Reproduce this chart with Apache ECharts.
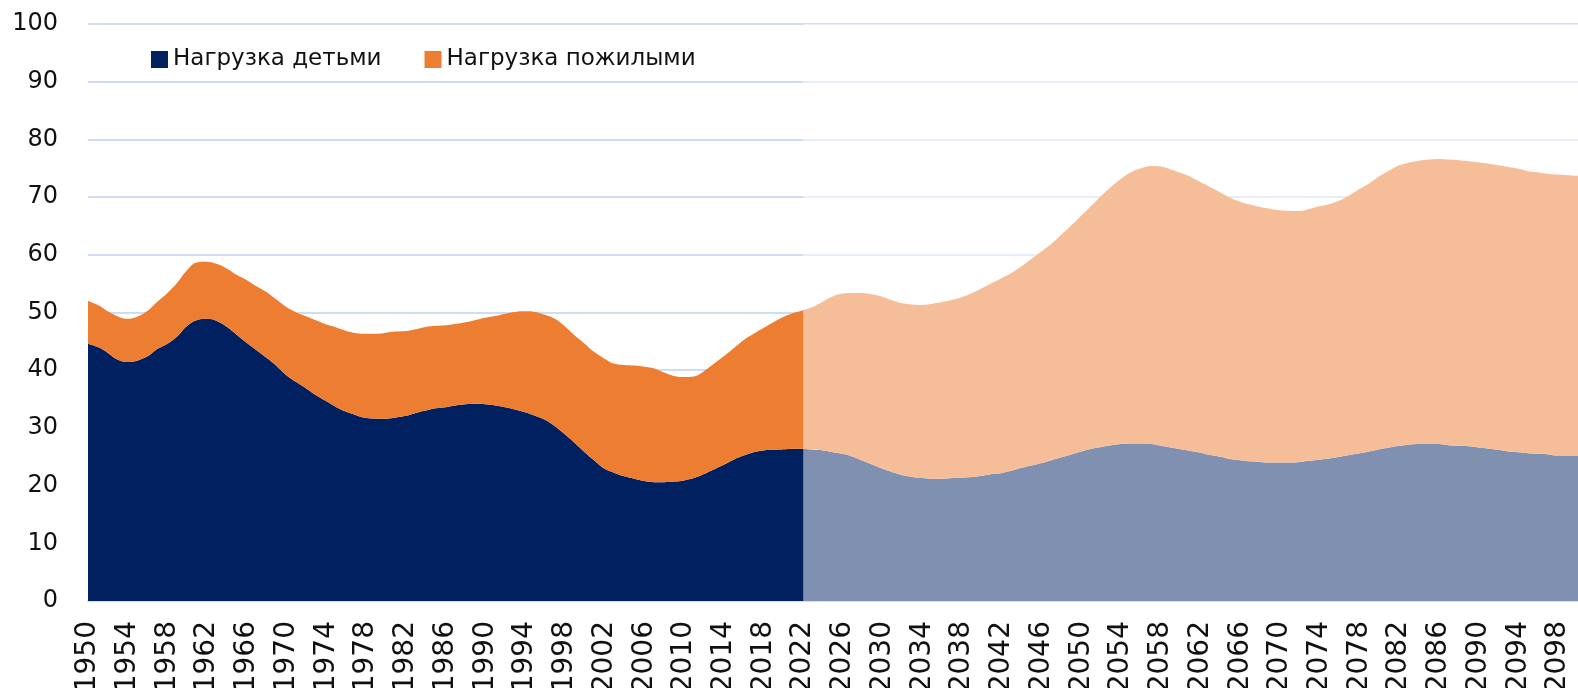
<!DOCTYPE html>
<html>
<head>
<meta charset="utf-8">
<script src="https://cdn.jsdelivr.net/npm/echarts@6/dist/echarts.min.js"></script>
<style>
  html, body { margin: 0; padding: 0; background: #fff; }
  #chart { width: 1578px; height: 688px; }
</style>
</head>
<body>
<div id="chart"></div>
<script>
// годы 1950-2100
var years = [];
for (var y = 1950; y <= 2100; y++) years.push(String(y));

// нагрузка детьми (на 100 человек трудоспособного возраста)
var childData = [
  44.6,44.0,43.0,41.8,41.4,41.7,42.4,43.7,44.6,45.9,
  47.7,48.7,48.9,48.5,47.5,46.1,44.7,43.4,42.1,40.7,
  39.1,37.9,36.8,35.6,34.6,33.6,32.8,32.2,31.7,31.6,
  31.6,31.8,32.1,32.6,33.0,33.4,33.6,33.9,34.1,34.2,
  34.1,33.9,33.6,33.2,32.7,32.1,31.4,30.3,28.9,27.4,
  25.8,24.3,22.9,22.2,21.6,21.2,20.8,20.6,20.6,20.7,
  20.9,21.3,22.0,22.8,23.6,24.5,25.2,25.8,26.1,26.2,
  26.3,26.4,26.4,26.2,26.1,25.8,25.5,25.0,24.3,23.6,
  22.9,22.3,21.8,21.5,21.3,21.2,21.2,21.3,21.4,21.5,
  21.7,22.0,22.2,22.6,23.1,23.5,23.9,24.4,24.9,25.4,
  25.9,26.4,26.7,27.0,27.2,27.3,27.3,27.2,26.9,26.6,
  26.3,26.0,25.7,25.3,25.0,24.6,24.4,24.2,24.1,24.0,
  24.0,24.0,24.1,24.3,24.5,24.7,25.0,25.3,25.6,25.9,
  26.3,26.6,26.9,27.1,27.2,27.2,27.2,27.0,26.9,26.8,
  26.6,26.4,26.2,25.9,25.8,25.6,25.5,25.4,25.2,25.2,
  25.2
];

// нагрузка пожилыми
var oldData = [
  7.4,7.3,7.2,7.5,7.5,7.6,7.9,8.2,8.8,9.3,
  9.7,10.0,9.9,9.9,10.1,10.4,10.9,11.1,11.4,11.5,
  11.8,12.1,12.5,13.0,13.3,13.8,14.0,14.2,14.6,14.7,
  14.9,14.9,14.7,14.5,14.5,14.3,14.2,14.1,14.2,14.5,
  15.0,15.5,16.2,16.9,17.5,18.0,18.2,18.6,18.7,18.6,
  18.8,18.8,19.1,18.9,19.3,19.6,19.8,19.7,19.0,18.3,
  17.9,17.6,17.8,18.3,18.8,19.3,20.0,20.5,21.2,22.1,
  22.9,23.5,24.0,24.8,25.8,27.0,27.8,28.4,29.1,29.5,
  29.8,29.8,29.8,29.9,30.0,30.3,30.6,30.9,31.3,31.9,
  32.5,33.1,33.8,34.3,34.9,35.8,36.7,37.5,38.6,39.7,
  40.9,42.1,43.5,44.8,46.0,47.0,47.7,48.2,48.4,48.2,
  47.9,47.5,46.9,46.4,45.8,45.3,44.8,44.5,44.2,44.0,
  43.7,43.6,43.5,43.7,43.9,44.1,44.4,45.0,45.8,46.5,
  47.3,48.0,48.6,48.9,49.1,49.3,49.4,49.5,49.5,49.4,
  49.4,49.4,49.3,49.3,49.1,48.9,48.8,48.6,48.7,48.6,
  48.5
];

var forecastStart = "2022";
var forecastEnd = "2100";

var myChart = echarts.init(document.getElementById("chart"));
var font = "'DejaVu Sans', 'Noto Sans', sans-serif";

var option = {
  animation: false,
  textStyle: { fontFamily: font },
  legend: {
    left: 146,
    top: 43,
    icon: "rect",
    itemWidth: 17,
    itemHeight: 17,
    itemGap: 43,
    textStyle: { fontSize: 23, color: "#111", fontFamily: font },
    data: ["Нагрузка детьми", "Нагрузка пожилыми"]
  },
  grid: {
    left: 88,
    right: 0,
    top: 24,
    bottom: 87,
    outerBoundsMode: "none"
  },
  xAxis: {
    type: "category",
    boundaryGap: false,
    data: years,
    axisTick: { show: false },
    axisLine: { lineStyle: { color: "#cfdcf5", width: 2 } },
    axisLabel: {
      rotate: 90,
      interval: 3,
      margin: 20,
      fontSize: 28,
      color: "#111",
      fontFamily: font
    }
  },
  yAxis: {
    type: "value",
    min: 0,
    max: 100,
    interval: 10,
    axisLine: { show: false },
    axisTick: { show: false },
    axisLabel: { fontSize: 24, color: "#111", margin: 30, fontFamily: font },
    splitLine: { lineStyle: { color: "#cfdcf5", width: 2 } }
  },
  series: [
    {
      name: "Нагрузка детьми",
      type: "line",
      stack: "total",
      smooth: 0.4,
      symbol: "none",
      lineStyle: { width: 0 },
      itemStyle: { color: "#002060" },
      areaStyle: { color: "#002060", opacity: 1 },
      data: childData
    },
    {
      name: "Нагрузка пожилыми",
      type: "line",
      stack: "total",
      smooth: 0.4,
      symbol: "none",
      lineStyle: { width: 0 },
      itemStyle: { color: "#ed7d31" },
      areaStyle: { color: "#ed7d31", opacity: 1 },
      data: oldData,
      // прогноз - осветлённая часть
      markArea: {
        silent: true,
        z: 10,
        itemStyle: { color: "rgba(255,255,255,0.5)" },
        label: { show: false },
        data: [[{ xAxis: forecastStart }, { xAxis: forecastEnd }]]
      }
    }
  ]
};

myChart.setOption(option);
</script>
</body>
</html>
